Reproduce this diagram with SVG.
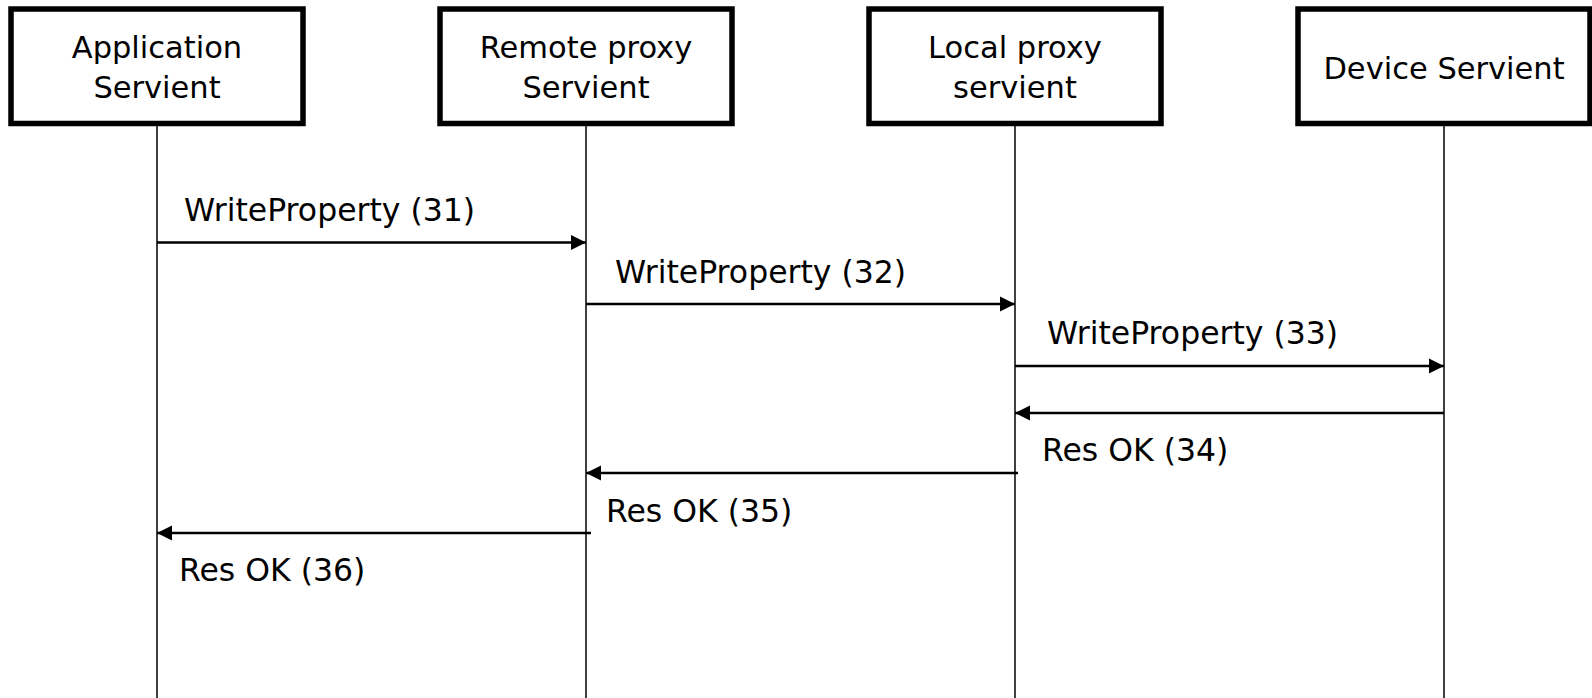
<svg xmlns="http://www.w3.org/2000/svg" width="1592" height="698" viewBox="0 0 1592 698">
  <style>
    .box { fill: #ffffff; stroke: #000000; stroke-width: 5.5; }
    .life { stroke: #000000; stroke-width: 1.5; fill: none; }
    .msg { stroke: #000000; stroke-width: 2.5; fill: none; }
    .title { font-family: "DejaVu Sans", "Liberation Sans", sans-serif; font-size: 30.5px; fill: #000000; text-anchor: middle; }
    .label { font-family: "DejaVu Sans", "Liberation Sans", sans-serif; font-size: 31.5px; fill: #000000; }
  </style>
  <defs>
    <marker id="head" markerUnits="userSpaceOnUse" markerWidth="16" markerHeight="16" refX="15" refY="8" orient="auto">
      <path d="M0,0.5 L15,8 L0,15.5 Z" fill="#000000"/>
    </marker>
  </defs>

  <rect width="1592" height="698" fill="#ffffff"/>

  <!-- lifelines -->
  <g id="lifelines">
    <line class="life" x1="157" y1="124" x2="157" y2="698"/>
    <line class="life" x1="586" y1="124" x2="586" y2="698"/>
    <line class="life" x1="1015" y1="124" x2="1015" y2="698"/>
    <line class="life" x1="1444" y1="124" x2="1444" y2="698"/>
  </g>

  <!-- participants -->
  <g id="application-servient">
    <rect class="box" x="11" y="9" width="292" height="114.5"/>
    <text class="title" x="157" y="58">Application</text>
    <text class="title" x="157" y="98">Servient</text>
  </g>
  <g id="remote-proxy-servient">
    <rect class="box" x="440" y="9" width="292" height="114.5"/>
    <text class="title" x="586" y="58">Remote proxy</text>
    <text class="title" x="586" y="98">Servient</text>
  </g>
  <g id="local-proxy-servient">
    <rect class="box" x="869" y="9" width="292" height="114.5"/>
    <text class="title" x="1015" y="58">Local proxy</text>
    <text class="title" x="1015" y="98">servient</text>
  </g>
  <g id="device-servient">
    <rect class="box" x="1298" y="9" width="292" height="114.5"/>
    <text class="title" x="1444" y="79">Device Servient</text>
  </g>

  <!-- messages -->
  <g id="connectors">
    <line class="msg" x1="157" y1="242.5" x2="586" y2="242.5" marker-end="url(#head)"/>
    <line class="msg" x1="586" y1="304" x2="1015" y2="304" marker-end="url(#head)"/>
    <line class="msg" x1="1015" y1="366" x2="1444" y2="366" marker-end="url(#head)"/>
    <line class="msg" x1="1444" y1="413" x2="1015" y2="413" marker-end="url(#head)"/>
    <line class="msg" x1="1018" y1="473" x2="586" y2="473" marker-end="url(#head)"/>
    <line class="msg" x1="591" y1="533" x2="157" y2="533" marker-end="url(#head)"/>
  </g>

  <g id="labels">
    <text class="label" x="184" y="221">WriteProperty (31)</text>
    <text class="label" x="615" y="283">WriteProperty (32)</text>
    <text class="label" x="1047" y="344">WriteProperty (33)</text>
    <text class="label" x="1042" y="461">Res OK (34)</text>
    <text class="label" x="606" y="522">Res OK (35)</text>
    <text class="label" x="179" y="581">Res OK (36)</text>
  </g>
</svg>
